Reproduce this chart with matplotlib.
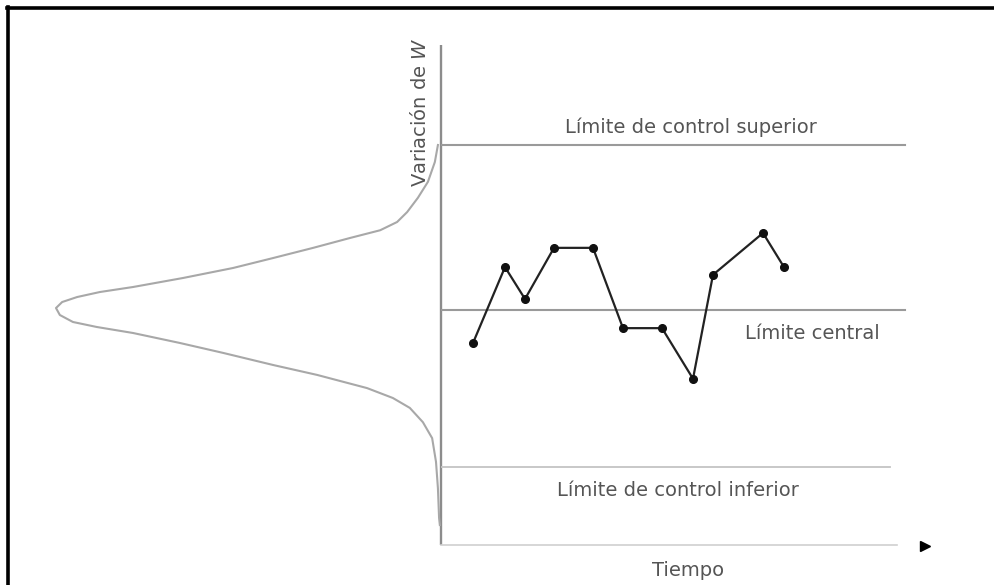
import numpy as np
import matplotlib
matplotlib.use('Agg')
import matplotlib.pyplot as plt
from matplotlib.lines import Line2D

# sample points (time, variation)
tiempo = [3.2, 6.4, 8.4, 11.3, 15.2, 18.2, 22.1, 25.2, 27.2, 32.2, 34.3]
variacion = [-0.60, 0.78, 0.20, 1.13, 1.13, -0.33, -0.33, -1.25, 0.64, 1.40, 0.78]

lim_sup = 3.0
lim_central = 0.0
lim_inf = -2.85

# bell curve beside the vertical axis (variation, relative frequency)
curva_y = [3.0, 2.69, 2.33, 2.04, 1.78, 1.60, 1.45, 1.31, 1.13, 0.945, 0.764, 0.582,
           0.418, 0.327, 0.236, 0.145, 0.036,
           -0.091, -0.218, -0.309, -0.418, -0.60, -0.78, -1.0, -1.18, -1.42, -1.6,
           -1.78, -2.04, -2.33, -2.76, -3.24, -3.78, -3.91]
curva_x = [0.008, 0.016, 0.034, 0.060, 0.088, 0.114, 0.158, 0.236, 0.332, 0.436, 0.540, 0.670,
           0.800, 0.886, 0.945, 0.984, 1.0,
           0.990, 0.956, 0.894, 0.800, 0.678, 0.566, 0.436, 0.322, 0.192, 0.125,
           0.081, 0.047, 0.023, 0.013, 0.008, 0.005, 0.003]

W, H = 995, 585
fig = plt.figure(figsize=(W / 100, H / 100), dpi=100)
fig.patch.set_facecolor('white')

def fx(px):
    return px / W

def fy(py):
    return 1 - py / H

# px -> data:  x = (px - 441) / 10 ; y = (310 - py) / 55
ax = fig.add_axes([fx(441), fy(545), (960 - 441) / W, 500 / H])
ax.set_xlim(0, (960 - 441) / 10)
ax.set_ylim((310 - 545) / 55, (310 - 45) / 55)
ax.axis('off')

axd = fig.add_axes([0, fy(545), 441 / W, 500 / H], sharey=ax)
axd.set_xlim(441 / 385, 0)
axd.axis('off')

gris = '#9a9a9a'
texto = '#555555'

# axes lines
ax.plot([0, 0], [(310 - 545) / 55, (310 - 45) / 55], color='#8c8c8c', lw=1.7,
        solid_capstyle='butt', clip_on=False)
ax.plot([0, 45.6], [(310 - 545) / 55] * 2, color='#d0d0d0', lw=1.2, clip_on=False)
ax.plot([48.4], [(310 - 546) / 55], marker='>', color='black', ms=7, ls='none', clip_on=False)

# control limits
ax.plot([0, 46.4], [lim_sup, lim_sup], color=gris, lw=1.5)
ax.plot([0, 46.4], [lim_central, lim_central], color=gris, lw=1.5)
ax.plot([0, 44.9], [lim_inf, lim_inf], color='#c4c4c4', lw=1.3)

# bell curve
axd.plot(curva_x, curva_y, color='#a8a8a8', lw=1.5, solid_joinstyle='round', clip_on=False)

# data
ax.plot(tiempo, variacion, color='#222222', lw=1.6, marker='o', ms=5.5,
        markerfacecolor='#111111', markeredgecolor='#111111')

fs = 14
ax.text(25.0, lim_sup + 0.33, 'Límite de control superior', ha='center', va='center',
        fontsize=fs, color=texto)
ax.text(37.1, lim_central - 0.42, 'Límite central', ha='center', va='center',
        fontsize=fs, color=texto)
ax.text(23.7, lim_inf - 0.44, 'Límite de control inferior', ha='center', va='center',
        fontsize=fs, color=texto)
ax.text(24.7, (310 - 570) / 55, 'Tiempo', ha='center', va='center',
        fontsize=fs, color=texto)
ax.text(-2.1, (310 - 112) / 55, 'Variación de $\\mathit{W}$', ha='center', va='center',
        rotation=90, fontsize=fs, color=texto)

# black frame (top and left visible)
fig.add_artist(Line2D([fx(7), 1.0], [fy(8), fy(8)], color='black', lw=2.6,
                      transform=fig.transFigure))
fig.add_artist(Line2D([fx(8), fx(8)], [fy(7), 0.0], color='black', lw=2.6,
                      transform=fig.transFigure))

fig.savefig('out.png', dpi=100, facecolor='white')
